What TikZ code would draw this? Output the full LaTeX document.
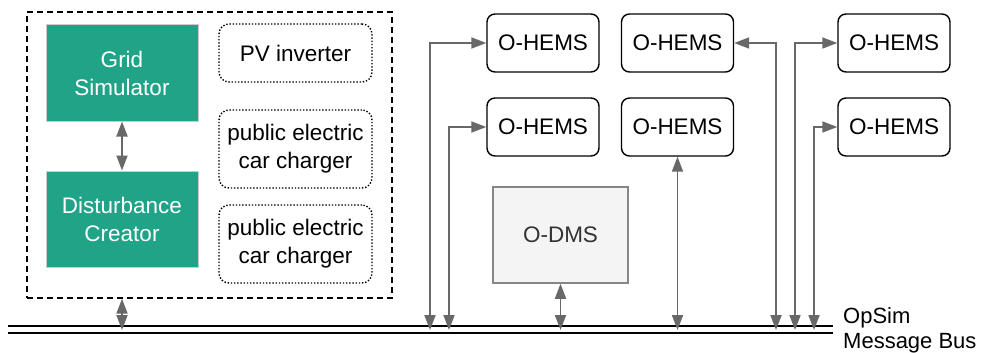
\documentclass[tikz,border=0pt]{standalone}
\usepackage{fontspec}
\setmainfont{Liberation Sans}
\usetikzlibrary{arrows.meta}

\definecolor{simteal}{RGB}{33,163,136}
\definecolor{linkgray}{RGB}{104,104,104}
\definecolor{dmsfill}{RGB}{244,244,244}

\tikzset{
  hems/.style={draw, rounded corners=8pt, line width=1.4pt, minimum width=112pt, minimum height=58pt, inner sep=0pt},
  simblock/.style={draw=black!20, fill=simteal, line width=1pt, text=white, align=center, minimum width=152pt, minimum height=96pt, inner sep=0pt},
  device/.style={draw, dash pattern=on 1.4pt off 1.8pt, line width=1.4pt, rounded corners=10pt, align=center, minimum width=153pt, inner sep=0pt},
  link/.style={draw=linkgray, line width=1.8pt, {Triangle[length=15pt,width=11pt]}-{Triangle[length=15pt,width=11pt]}},
}

\begin{document}
\begin{tikzpicture}[x=1pt,y=-1pt,font=\fontsize{22.5}{28}\selectfont]
\useasboundingbox (0,0) rectangle (983,353);
% simulation part
\node[draw, dash pattern=on 6pt off 4pt, line width=1.4pt, minimum width=365pt, minimum height=286pt] (sim) at (209.5,155) {};
\node[simblock] (grid) at (122,73) {Grid\\Simulator};
\node[simblock] (dist) at (122,219) {Disturbance\\Creator};
\node[device, minimum height=58pt] (pv) at (295.5,53) {PV inverter};
\node[device, minimum height=78pt] (charger1) at (295.5,149) {public electric\\car charger};
\node[device, minimum height=78pt] (charger2) at (295.5,244) {public electric\\car charger};
% O-HEMS and O-DMS
\node[hems] (h11) at (543,43) {O-HEMS};
\node[hems] (h21) at (543,127) {O-HEMS};
\node[hems] (h12) at (677.5,43) {O-HEMS};
\node[hems] (h22) at (677.5,127) {O-HEMS};
\node[hems] (h13) at (894,43) {O-HEMS};
\node[hems] (h23) at (894,127) {O-HEMS};
\node[draw=linkgray!80, fill=dmsfill, line width=1.5pt, text=black!80, minimum width=135pt, minimum height=96pt] (dms) at (560.5,235) {O-DMS};
% message bus
\draw[line width=1.4pt] (8,326) -- (833,326);
\draw[line width=1.4pt] (8,333) -- (833,333);
\node[anchor=west, align=left, inner sep=0pt, font=\fontsize{22}{25}\selectfont] (buslabel) at (843,330) {OpSim\\Message Bus};
\coordinate (bus) at (0,330);
\coordinate (tap1) at (430,330);
\coordinate (tap2) at (449,330);
\coordinate (tap4) at (776,330);
\coordinate (tap5) at (795,330);
\coordinate (tap6) at (814,330);
% links
\draw[link] (grid) -- (dist);
\draw[link] (sim.south -| dist.south) -- (dist.south |- bus);
\draw[link] (tap1) |- (h11.west);
\draw[link] (tap2) |- (h21.west);
\draw[link] (dms.south) -- (dms.south |- bus);
\draw[link] (h22.south) -- (h22.south |- bus);
\draw[link] (tap4) |- (h12.east);
\draw[link] (tap5) |- (h13.west);
\draw[link] (tap6) |- (h23.west);
\end{tikzpicture}
\end{document}
